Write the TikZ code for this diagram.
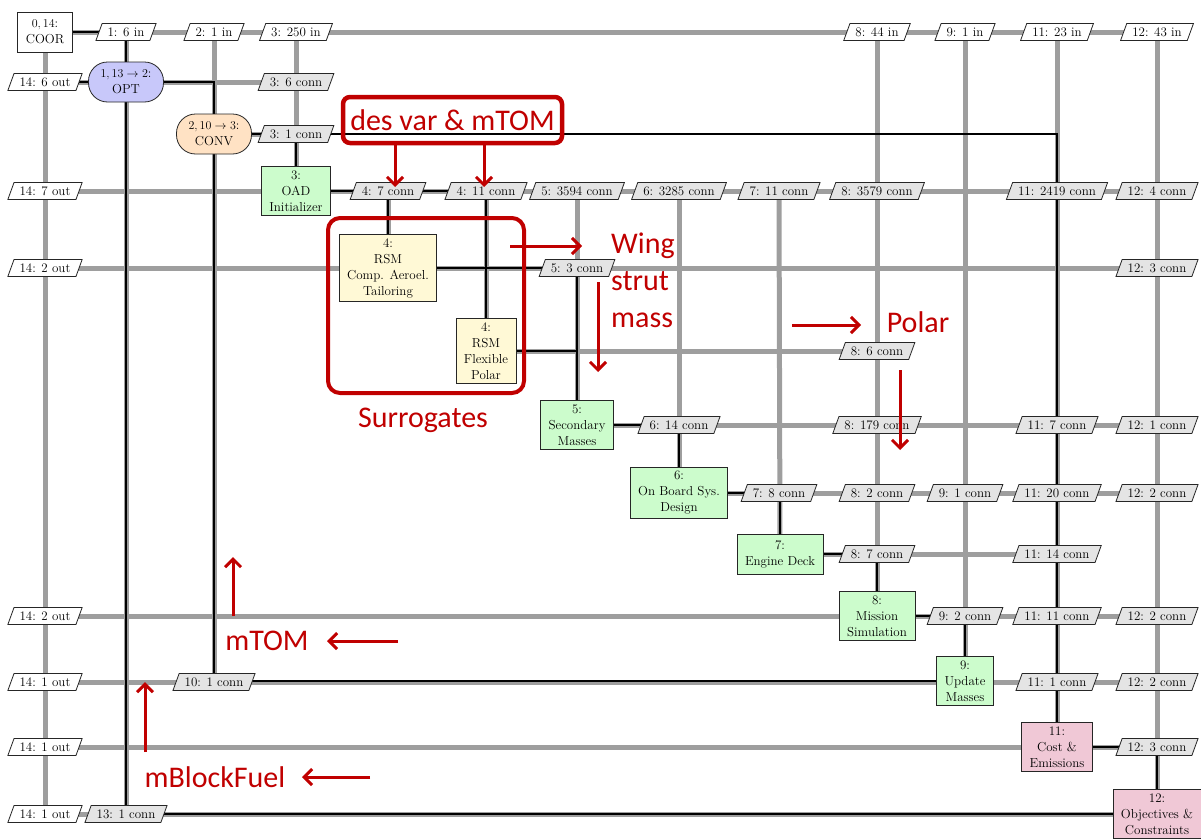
\documentclass[tikz,border=0pt]{standalone}
\usepackage{fontspec}
\newfontfamily\calib{Carlito}
\usetikzlibrary{shapes.geometric,arrows.meta}
\pgfdeclarelayer{bgA}
\pgfdeclarelayer{bgB}
\pgfsetlayers{bgA,bgB,main}
\definecolor{optc}{RGB}{200,200,250}
\definecolor{convc}{RGB}{255,226,196}
\definecolor{grn}{RGB}{204,252,204}
\definecolor{ylw}{RGB}{255,249,214}
\definecolor{pnk}{RGB}{240,200,214}
\definecolor{connc}{RGB}{228,228,228}
\definecolor{datac}{RGB}{158,158,158}
\definecolor{annot}{RGB}{192,0,0}
\tikzset{
 base/.style={font=\fontsize{13}{16}\selectfont, align=center, draw=black!85, line width=0.8pt},
 comp/.style={base, rectangle, inner xsep=8pt, inner ysep=4pt, minimum height=40pt},
 coor/.style={comp, fill=white},
 func/.style={comp, fill=grn},
 rsm/.style={comp, fill=ylw},
 post/.style={comp, fill=pnk},
 optbox/.style={base, rectangle, rounded corners=19pt, inner xsep=12pt, minimum height=40pt, fill=optc},
 convbox/.style={optbox, fill=convc},
 dio/.style={base, trapezium, trapezium left angle=70, trapezium right angle=110, trapezium stretches=true, inner xsep=5.5pt, inner ysep=3pt, text height=9.5pt, text depth=1.5pt, fill=white},
 dconn/.style={dio, fill=connc},
 dataline/.style={draw=datac, line width=5pt},
 procline/.style={draw=black, line width=2pt},
 thinproc/.style={draw=black, line width=1.5pt},
 redbox/.style={draw=annot, line width=4.5pt, rounded corners=7pt},
 redarrow/.style={draw=annot, line width=3pt, -{Straight Barb[length=8pt,width=16pt]}},
 redtext/.style={text=annot, inner sep=0pt, font=\calib\fontsize{30}{37}\selectfont},
}
\begin{document}
\begin{tikzpicture}[x=1pt,y=-1pt]
\useasboundingbox (0,0) rectangle (1201,838);
% components
\node[coor] (COOR) at (45,32) {$0,14$:\\COOR};
\node[optbox] (OPT) at (126,82) {$1,13\rightarrow 2$:\\OPT};
\node[convbox] (CONV) at (214,134) {$2,10\rightarrow 3$:\\CONV};
\node[func] (OAD) at (296,191) {3:\\OAD\\Initializer};
\node[rsm] (CAT) at (388,268) {4:\\RSM\\Comp. Aeroel.\\Tailoring};
\node[rsm] (POL) at (486,351) {4:\\RSM\\Flexible\\Polar};
\node[func] (SEC) at (577,425) {5:\\Secondary\\Masses};
\node[func] (OBS) at (679,493) {6:\\On Board Sys.\\Design};
\node[func] (ENG) at (780,554) {7:\\Engine Deck};
\node[func] (MIS) at (877,616) {8:\\Mission\\Simulation};
\node[func] (UPD) at (965,681) {9:\\Update\\Masses};
\node[post] (COST) at (1057,747) {11:\\Cost \&\\Emissions};
\node[post] (OBJ) at (1157,814) {12:\\Objectives \&\\Constraints};
% row 0
\node[dio] (i1) at (126,32) {1: 6 in};
\node[dio] (i2) at (214,32) {2: 1 in};
\node[dio] (i3) at (296,32) {3: 250 in};
\node[dio] (i8) at (877,32) {8: 44 in};
\node[dio] (i9) at (965,32) {9: 1 in};
\node[dio] (i11) at (1057,32) {11: 23 in};
\node[dio] (i12) at (1157,32) {12: 43 in};
% row 1
\node[dio] (o1) at (45,82) {14: 6 out};
\node[dconn] (c3r1) at (296,82) {3: 6 conn};
% row 2
\node[dconn] (c3r2) at (296,134) {3: 1 conn};
% row 3
\node[dio] (o3) at (45,191) {14: 7 out};
\node[dconn] (c4ar3) at (388,191) {4: 7 conn};
\node[dconn] (c4br3) at (486,191) {4: 11 conn};
\node[dconn] (c5r3) at (577,191) {5: 3594 conn};
\node[dconn] (c6r3) at (679,191) {6: 3285 conn};
\node[dconn] (c7r3) at (779,191) {7: 11 conn};
\node[dconn] (c8r3) at (877,191) {8: 3579 conn};
\node[dconn] (c11r3) at (1057,191) {11: 2419 conn};
\node[dconn] (c12r3) at (1157,191) {12: 4 conn};
% row 4a
\node[dio] (o4) at (45,268) {14: 2 out};
\node[dconn] (c5r4) at (577,268) {5: 3 conn};
\node[dconn] (c12r4) at (1157,268) {12: 3 conn};
% row 4b
\node[dconn] (c8r4b) at (877,351) {8: 6 conn};
% row 5
\node[dconn] (c6r5) at (679,425) {6: 14 conn};
\node[dconn] (c8r5) at (877,425) {8: 179 conn};
\node[dconn] (c11r5) at (1057,425) {11: 7 conn};
\node[dconn] (c12r5) at (1157,425) {12: 1 conn};
% row 6
\node[dconn] (c7r6) at (779,493) {7: 8 conn};
\node[dconn] (c8r6) at (877,493) {8: 2 conn};
\node[dconn] (c9r6) at (965,493) {9: 1 conn};
\node[dconn] (c11r6) at (1057,493) {11: 20 conn};
\node[dconn] (c12r6) at (1157,493) {12: 2 conn};
% row 7
\node[dconn] (c8r7) at (877,554) {8: 7 conn};
\node[dconn] (c11r7) at (1057,554) {11: 14 conn};
% row 8
\node[dio] (o8) at (45,616) {14: 2 out};
\node[dconn] (c9r8) at (965,616) {9: 2 conn};
\node[dconn] (c11r8) at (1057,616) {11: 11 conn};
\node[dconn] (c12r8) at (1157,616) {12: 2 conn};
% row 9
\node[dio] (o9) at (45,682) {14: 1 out};
\node[dconn] (c2r9) at (214,682) {10: 1 conn};
\node[dconn] (c11r9) at (1057,682) {11: 1 conn};
\node[dconn] (c12r9) at (1157,682) {12: 2 conn};
% row 11
\node[dio] (o11) at (45,747) {14: 1 out};
\node[dconn] (c12r11) at (1157,747) {12: 3 conn};
% row 12
\node[dio] (o12) at (45,814) {14: 1 out};
\node[dconn] (c1r12) at (126,814) {13: 1 conn};
% data lines
\begin{pgfonlayer}{bgA}
\draw[dataline] (COOR.center) -- (i12.center);
\draw[dataline] (o1.center) -- (c3r1.center);
\draw[dataline] (CONV.center) -- (c3r2.center);
\draw[dataline] (o3.center) -- (c12r3.center);
\draw[dataline] (o4.center) -- (c12r4.center);
\draw[dataline] (POL.center) -- (c8r4b.center);
\draw[dataline] (SEC.center) -- (c12r5.center);
\draw[dataline] (OBS.center) -- (c12r6.center);
\draw[dataline] (ENG.center) -- (c11r7.center);
\draw[dataline] (o8.center) -- (c12r8.center);
\draw[dataline] (o9.center) -- (c12r9.center);
\draw[dataline] (o11.center) -- (c12r11.center);
\draw[dataline] (o12.center) -- (OBJ.center);
\draw[dataline] (COOR.center) -- (o12.center);
\draw[dataline] (i1.center) -- (c1r12.center);
\draw[dataline] (i2.center) -- (c2r9.center);
\draw[dataline] (i3.center) -- (OAD.center);
\draw[dataline] (c4ar3.center) -- (CAT.center);
\draw[dataline] (c4br3.center) -- (POL.center);
\draw[dataline] (c5r3.center) -- (SEC.center);
\draw[dataline] (c6r3.center) -- (OBS.center);
\draw[dataline] (c7r3.center) -- (ENG.center);
\draw[dataline] (i8.center) -- (MIS.center);
\draw[dataline] (i9.center) -- (UPD.center);
\draw[dataline] (i11.center) -- (COST.center);
\draw[dataline] (i12.center) -- (OBJ.center);
\end{pgfonlayer}
% process lines
\begin{pgfonlayer}{bgB}
\draw[procline] (COOR.center) -| (OPT.center);
\draw[procline] (o1.center) -- (OPT.center);
\draw[procline] (OPT.center) -| (CONV.center);
\draw[procline] (CONV.center) -| (OAD.center);
\draw[thinproc] (CONV.center) -| (COST.center);
\draw[procline] (OAD.center) -| (CAT.center);
\draw[procline] (OAD.center) -| (POL.center);
\draw[procline] (CAT.center) -| (SEC.center);
\draw[procline] (POL.center) -| (SEC.center);
\draw[procline] (SEC.center) -| (OBS.center);
\draw[procline] (OBS.center) -| (ENG.center);
\draw[procline] (ENG.center) -| (MIS.center);
\draw[procline] (MIS.center) -| (UPD.center);
\draw[procline] (UPD.center) -| (CONV.center);
\draw[procline] (COST.center) -| (OBJ.center);
\draw[procline] (OBJ.center) -| (OPT.center);
\end{pgfonlayer}
% annotations
\node[redbox, redtext, minimum width=219pt, minimum height=46pt] (desvar) at (452.5,120) {des var \& mTOM};
\node[redbox, rounded corners=12pt, line width=4pt, minimum width=196pt, minimum height=175pt] (surr) at (426,305.5) {};
\node[redtext] (surrtxt) at (423,420) {Surrogates};
\node[redtext, anchor=west, align=left] (wing) at (611,280) {Wing\\strut\\mass};
\node[redtext] (polar) at (918,322) {Polar};
\node[redtext] (mtom) at (267,641) {mTOM};
\node[redtext] (mbf) at (215,777) {mBlockFuel};
\coordinate (a1s) at (395,143); \coordinate (a1e) at (395,187);
\coordinate (a2s) at (484,143); \coordinate (a2e) at (484,187);
\coordinate (a3s) at (510,246); \coordinate (a3e) at (582,246);
\coordinate (a4s) at (598,282); \coordinate (a4e) at (598,372);
\coordinate (a5s) at (792,325); \coordinate (a5e) at (861,325);
\coordinate (a6s) at (900,370); \coordinate (a6e) at (900,450);
\coordinate (a7s) at (398,641); \coordinate (a7e) at (327,641);
\coordinate (a8s) at (233,616); \coordinate (a8e) at (233,557);
\coordinate (a9s) at (370,777); \coordinate (a9e) at (302,777);
\coordinate (a10s) at (145,752); \coordinate (a10e) at (145,682);
\draw[redarrow] (a1s) -- (a1e);
\draw[redarrow] (a2s) -- (a2e);
\draw[redarrow] (a3s) -- (a3e);
\draw[redarrow] (a4s) -- (a4e);
\draw[redarrow] (a5s) -- (a5e);
\draw[redarrow] (a6s) -- (a6e);
\draw[redarrow] (a7s) -- (a7e);
\draw[redarrow] (a8s) -- (a8e);
\draw[redarrow] (a9s) -- (a9e);
\draw[redarrow] (a10s) -- (a10e);
\end{tikzpicture}
\end{document}
